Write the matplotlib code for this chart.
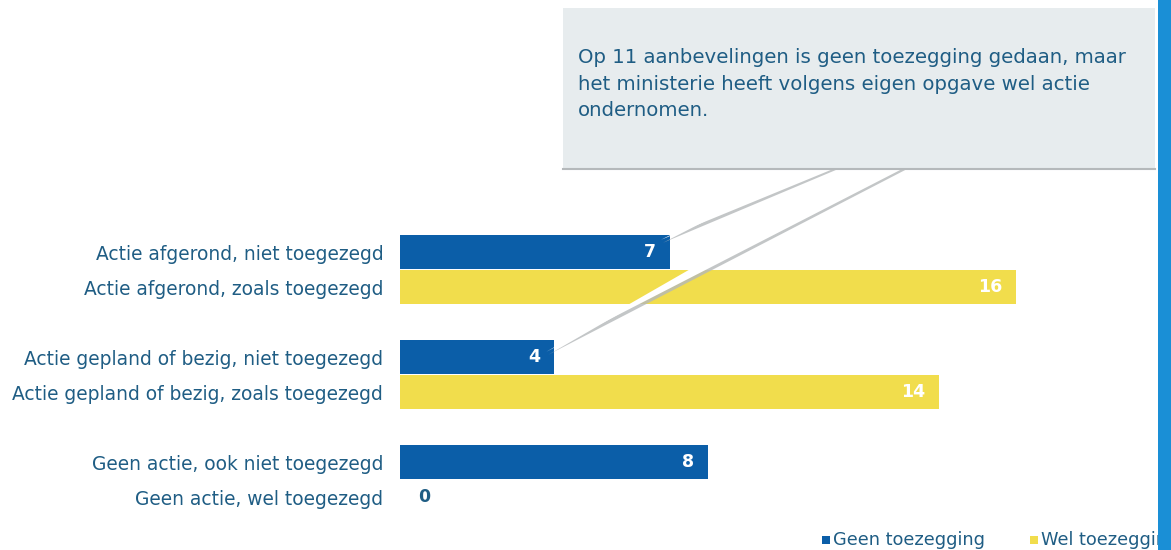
import matplotlib
matplotlib.use("Agg")
import matplotlib.pyplot as plt
from matplotlib.patches import Rectangle, Polygon
from matplotlib.lines import Line2D

categories = [
    "Actie afgerond, niet toegezegd",
    "Actie afgerond, zoals toegezegd",
    "Actie gepland of bezig, niet toegezegd",
    "Actie gepland of bezig, zoals toegezegd",
    "Geen actie, ook niet toegezegd",
    "Geen actie, wel toegezegd",
]
values = [7, 16, 4, 14, 8, 0]
series = ["Geen toezegging", "Wel toezegging", "Geen toezegging",
          "Wel toezegging", "Geen toezegging", "Wel toezegging"]
positions = [0, 1, 3, 4, 6, 7]
legend_labels = ["Geen toezegging", "Wel toezegging"]
callout_text = ("Op 11 aanbevelingen is geen toezegging gedaan, maar\n"
                "het ministerie heeft volgens eigen opgave wel actie\n"
                "ondernomen.")

BLUE = "#0b5ea8"
YELLOW = "#f1dd4c"
TEXT = "#1f5d84"
colors = {"Geen toezegging": BLUE, "Wel toezegging": YELLOW}

W, H = 1171, 550
fig = plt.figure(figsize=(W / 100, H / 100), dpi=100)
fig.patch.set_facecolor("white")

def fp(x, y):
    return (x / W, 1 - y / H)

ax = fig.add_axes([400 / W, 30 / H, 770 / W, 320 / H])
ax.set_xlim(0, 20)
ax.set_ylim(7.657, -1.486)
for s in ax.spines.values():
    s.set_visible(False)
ax.set_xticks([])
ax.set_yticks(positions)
ax.set_yticklabels(categories, fontsize=13.4, color=TEXT)
ax.tick_params(axis="y", length=0, pad=12)

ax.barh(positions, values, height=0.95,
        color=[colors[s] for s in series], zorder=2)

for p, v in zip(positions, values):
    if v == 0:
        ax.annotate(str(v), (v, p), xytext=(18, 0), textcoords="offset pixels",
                    ha="left", va="center", fontsize=12.5, fontweight="bold",
                    color=TEXT, zorder=3)
    else:
        ax.annotate(str(v), (v, p), xytext=(-14, 0), textcoords="offset pixels",
                    ha="right", va="center", fontsize=12.5, fontweight="bold",
                    color="white", zorder=3)

# Callout box
box = Rectangle(fp(563, 168), (1155 - 563) / W, (168 - 8) / H,
                transform=fig.transFigure, facecolor="#e7ecee",
                edgecolor="none", zorder=5)
fig.add_artist(box)
fig.add_artist(Line2D([563 / W, 1155 / W], [1 - 168.5 / H, 1 - 168.5 / H],
                      transform=fig.transFigure, color="#b5b9bb", lw=1.5, zorder=6))
fig.text(578 / W, 1 - 48 / H, callout_text, fontsize=14.2, color=TEXT,
         va="top", ha="left", linespacing=1.5, zorder=7)

# Callout pointers to bars 7 and 4
def data_to_fig(x, y):
    d = ax.transData.transform((x, y))
    return fig.transFigure.inverted().transform(d)

tip1 = data_to_fig(values[0] - 0.22, positions[0] - 0.35)
tip2 = data_to_fig(values[2] - 0.2, positions[2] - 0.15)

for base, tip in [((805, 838), tip1), ((868, 906), tip2)]:
    b0 = fp(base[0], 167)
    b1 = fp(base[1], 167)
    sh = Polygon([(b0[0] + 5 / W, b0[1]), (b1[0] + 5 / W, b1[1]),
                  (tip[0] + 2 / W, tip[1] - 3 / H)],
                 closed=True, transform=fig.transFigure,
                 facecolor="#b4b8ba", edgecolor="none", alpha=0.8, zorder=4)
    fig.add_artist(sh)
    poly = Polygon([b0, b1, tip], closed=True, transform=fig.transFigure,
                   facecolor="white", edgecolor="none", zorder=4.5)
    fig.add_artist(poly)

# Legend
lx = [822, 1030]
for x, lab in zip(lx, legend_labels):
    fig.add_artist(Rectangle(fp(x, 544), 8 / W, 8 / H, transform=fig.transFigure,
                             facecolor=colors[lab], edgecolor="none", zorder=3))
    fig.text((x + 11) / W, 1 - 540 / H, lab, fontsize=12.8, color=TEXT,
             va="center", ha="left", zorder=3)

# Right border stripe
fig.add_artist(Rectangle((1158 / W, 0), 13 / W, 1, transform=fig.transFigure,
                         facecolor="#1a8fd6", edgecolor="none", zorder=10))

fig.savefig("out.png", dpi=100, facecolor="white")
